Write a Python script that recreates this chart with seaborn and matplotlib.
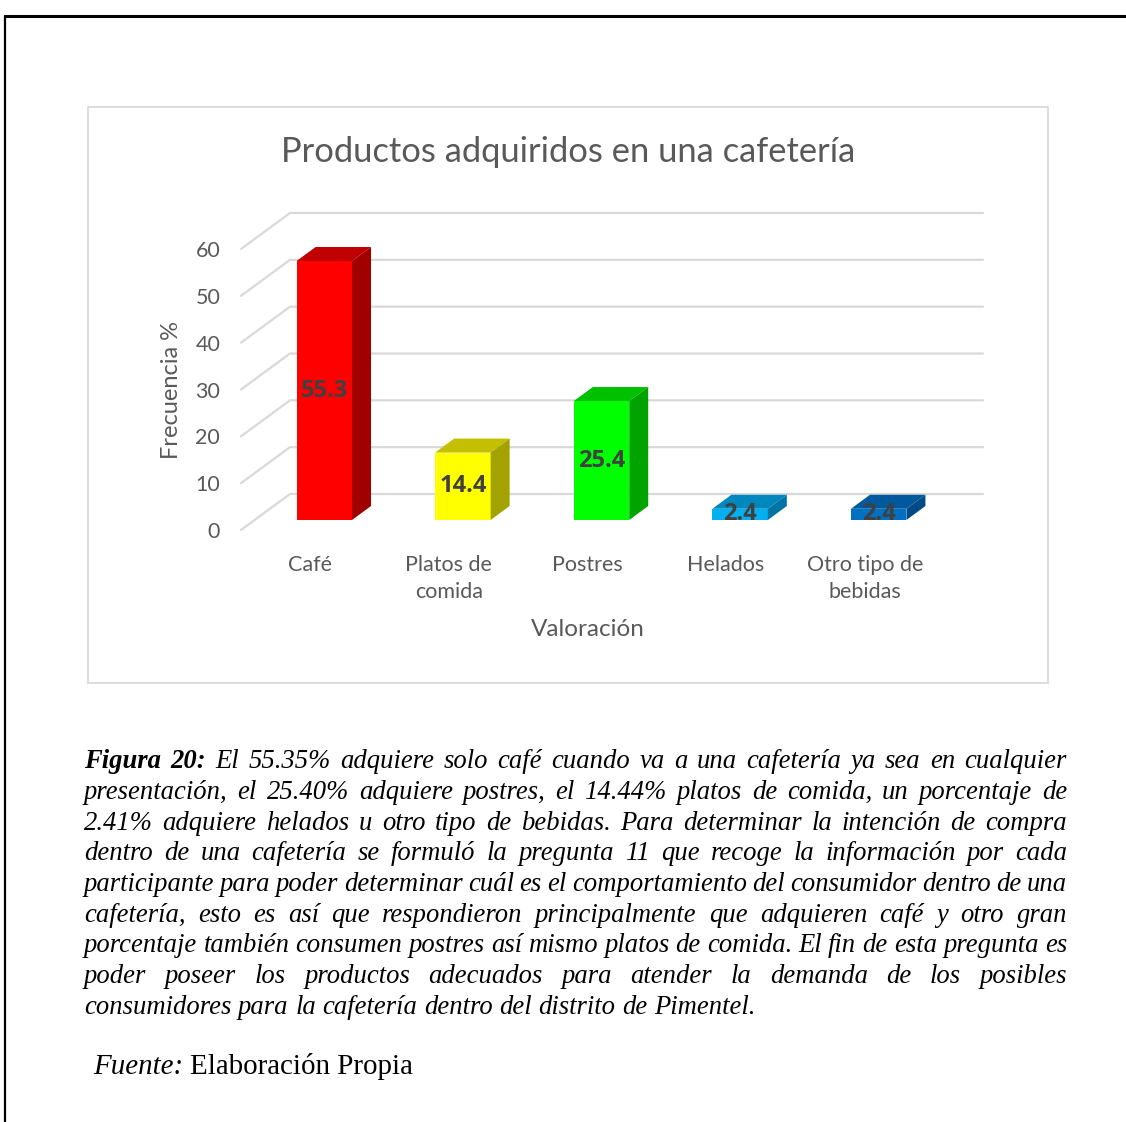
import matplotlib.pyplot as plt
import pandas as pd
import seaborn as sns
from matplotlib.lines import Line2D
from matplotlib.patches import Polygon, Rectangle

# valores
categorias = ["Café", "Platos de\ncomida", "Postres", "Helados", "Otro tipo de\nbebidas"]
frecuencia = [55.3, 14.4, 25.4, 2.4, 2.4]
ticks_y = [0, 10, 20, 30, 40, 50, 60]

color_frente = ["#FF0000", "#FFFF00", "#00FF00", "#00B0F0", "#0070C0"]
color_techo = ["#C00000", "#C4BF00", "#00C000", "#0088BE", "#00599C"]
color_lado = ["#A00000", "#A3A300", "#00A300", "#0074A3", "#004A85"]

titulo = "Productos adquiridos en una cafetería"
etiqueta_y = "Frecuencia %"
etiqueta_x = "Valoración"

pie_negrita = "Figura 20:"
pie_lineas = [
    "El 55.35% adquiere solo café cuando va a una cafetería ya sea en cualquier",
    "presentación, el 25.40% adquiere postres, el 14.44% platos de comida, un porcentaje de",
    "2.41% adquiere helados u otro tipo de bebidas. Para determinar la intención de compra",
    "dentro de una cafetería se formuló la pregunta 11 que recoge la información por cada",
    "participante para poder determinar cuál es el comportamiento del consumidor dentro de una",
    "cafetería, esto es así que respondieron principalmente que adquieren café y otro gran",
    "porcentaje también consumen postres así mismo platos de comida. El fin de esta pregunta es",
    "poder poseer los productos adecuados para atender la demanda de los posibles",
    "consumidores para la cafetería dentro del distrito de Pimentel.",
]
fuente_cursiva = "Fuente:"
fuente_texto = "Elaboración Propia"

W, H = 1126, 1122
GRIS = "#595959"
SERIF = "Liberation Serif"

sns.set_style("white")
plt.rcParams["font.family"] = ["Lato", "DejaVu Sans"]

fig = plt.figure(figsize=(W / 100, H / 100), dpi=100)
fig.patch.set_facecolor("white")

# marco del documento y recuadro del grafico
fig.add_artist(Line2D([5 / W, 1], [1 - 16 / H] * 2, color="black", lw=2.2))
fig.add_artist(Line2D([5 / W] * 2, [1 - 16 / H, 0], color="black", lw=1.6))
fig.add_artist(Rectangle((88 / W, 1 - 683 / H), 960 / W, 576 / H, fill=False,
                         ec="#D9D9D9", lw=1.3, transform=fig.transFigure))

ax = fig.add_axes([241 / W, 1 - 530 / H, 693 / W, 281 / H])
df = pd.DataFrame({"categoria": categorias, "frecuencia": frecuencia})
sns.barplot(data=df, x="categoria", y="frecuencia", hue="categoria",
            palette=color_frente, width=0.4, saturation=1, legend=False, ax=ax)

ax.set_xlim(-0.5, len(categorias) - 0.5)
ax.set_ylim(ticks_y[0], ticks_y[-1])
ax.set_facecolor("none")
sns.despine(ax=ax, left=True, bottom=True)
ax.grid(False)

# desplazamientos de profundidad (pixeles -> unidades de datos)
sx = ax.bbox.width / (len(categorias))
sy = ax.bbox.height / (ticks_y[-1] - ticks_y[0])
pared_x, pared_y = 49 / sx, 36 / sy
frente_x, frente_y = 14 / sx, 10 / sy
fondo_x, fondo_y = 19 / sx, 14 / sy

x_ini, x_fin = -0.5, len(categorias) - 0.5
for t in ticks_y:
    ax.plot([x_ini, x_ini + pared_x, x_fin + pared_x], [t, t + pared_y, t + pared_y],
            color="#D9D9D9", lw=1.6, clip_on=False, zorder=1)

barras = sorted(ax.patches, key=lambda p: p.get_x())
for i, b in enumerate(barras):
    b.set_x(b.get_x() + frente_x)
    b.set_y(b.get_y() + frente_y)
    b.set_linewidth(0)
    b.set_clip_on(False)
    b.set_zorder(3)
    x0, y0 = b.get_x(), b.get_y()
    x1, y1 = x0 + b.get_width(), y0 + b.get_height()
    ax.add_patch(Polygon([(x0, y1), (x1, y1), (x1 + fondo_x, y1 + fondo_y), (x0 + fondo_x, y1 + fondo_y)],
                         closed=True, fc=color_techo[i], lw=0, clip_on=False, zorder=3))
    ax.add_patch(Polygon([(x1, y0), (x1 + fondo_x, y0 + fondo_y), (x1 + fondo_x, y1 + fondo_y), (x1, y1)],
                         closed=True, fc=color_lado[i], lw=0, clip_on=False, zorder=3))
    ax.text((x0 + x1) / 2, (y0 + y1) / 2, f"{frecuencia[i]:.1f}", ha="center", va="center",
            fontsize=17, fontweight="bold", family=["Open Sans", "DejaVu Sans"],
            color="#404040", zorder=5, clip_on=False)

ax.set_yticks(ticks_y)
ax.set_yticklabels([str(t) for t in ticks_y])
ax.tick_params(axis="both", length=0, labelsize=15.5, labelcolor=GRIS)
ax.tick_params(axis="y", pad=15)
ax.tick_params(axis="x", pad=18)
for t in ax.get_xticklabels():
    t.set_linespacing(1.45)

ax.set_ylabel(etiqueta_y, fontsize=17, color=GRIS)
ax.yaxis.set_label_coords((172 - 241) / 693, (530 - 390) / 281)
ax.yaxis.label.set_verticalalignment("center")
ax.set_xlabel(etiqueta_x, fontsize=17.5, color=GRIS)
ax.xaxis.set_label_coords((588 - 241) / 693, (530 - 630) / 281)
ax.xaxis.label.set_verticalalignment("center")
ax.set_title(titulo, fontsize=24.8, color=GRIS, x=(568 - 241) / 693, y=(530 - 152) / 281,
             va="center", pad=0)

# pie de figura justificado
renderer = fig.canvas.get_renderer()


def ancho(texto, **kw):
    t = fig.text(0, 0, texto, **kw)
    w = t.get_window_extent(renderer).width
    t.remove()
    return w


estilo = dict(family=SERIF, style="italic")
tam = 10 * 673 / ancho(pie_lineas[-1], fontsize=10, **estilo)
espacio = ancho("a a", fontsize=tam, **estilo) - ancho("aa", fontsize=tam, **estilo)
margen_izq, margen_der = 84, 1067

for n, linea in enumerate(pie_lineas):
    palabras = [(p, "normal") for p in linea.split()]
    if n == 0:
        palabras = [(p, "bold") for p in pie_negrita.split()] + palabras
    anchos = [ancho(p, fontsize=tam, weight=w, **estilo) for p, w in palabras]
    if n < len(pie_lineas) - 1:
        hueco = (margen_der - margen_izq - sum(anchos)) / (len(palabras) - 1)
    else:
        hueco = espacio
    y = 768 + 30.75 * n
    x = margen_izq
    for (p, w), a in zip(palabras, anchos):
        fig.text(x / W, 1 - y / H, p, fontsize=tam, weight=w, va="baseline", color="black", **estilo)
        x += a + hueco

# linea de fuente, algo mas grande que el pie
tam_f = tam * 1.09
esp_f = ancho("a a", fontsize=tam_f, family=SERIF) - ancho("aa", fontsize=tam_f, family=SERIF)
x = 93
fig.text(x / W, 1 - 1074 / H, fuente_cursiva, fontsize=tam_f, va="baseline", color="black", **estilo)
x += ancho(fuente_cursiva, fontsize=tam_f, **estilo) + esp_f
fig.text(x / W, 1 - 1074 / H, fuente_texto, fontsize=tam_f, va="baseline", color="black", family=SERIF)

fig.savefig("out.png", dpi=100)
